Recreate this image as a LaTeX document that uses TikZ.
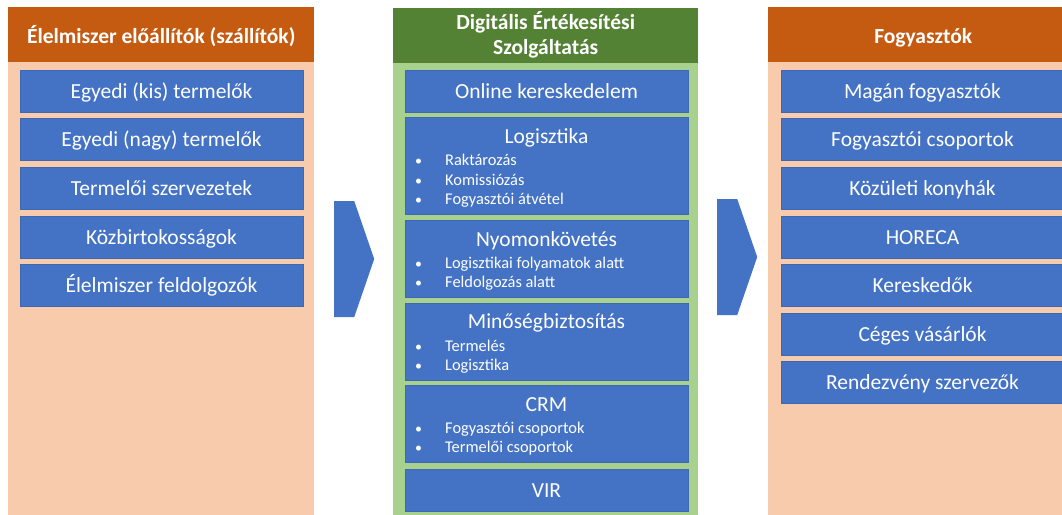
\documentclass[tikz,border=0pt]{standalone}
\usepackage{fontspec}
\setmainfont{Carlito}
\usetikzlibrary{positioning,calc,shapes.symbols}
\definecolor{HeadOrange}{HTML}{C55A11}
\definecolor{PanelPeach}{HTML}{F8CBAD}
\definecolor{HeadGreen}{HTML}{548235}
\definecolor{PanelGreen}{HTML}{A9D18E}
\definecolor{BoxBlue}{HTML}{4472C4}
\definecolor{BoxEdge}{HTML}{3E68B4}
\tikzset{
    % background columns
    panel/.style={
        rectangle,
        anchor=north west,
        inner sep=0pt,
        minimum height=530pt
    },
    panel head/.style={
        rectangle,
        anchor=north west,
        inner sep=0pt,
        minimum height=55pt,
        text=white,
        align=center,
        text height=17pt,
        text depth=0pt,
        font=\fontsize{21.5}{25}\selectfont\bfseries
    },
    % blue boxes
    box/.style={
        rectangle,
        fill=BoxBlue,
        draw=BoxEdge,
        line width=0.5pt,
        inner sep=0pt,
        outer sep=0pt,
        minimum width=283pt,
        minimum height=42pt,
        text=white,
        text height=14.5pt,
        text depth=0pt,
        font=\fontsize{21.5}{25}\selectfont
    },
    box title/.style={
        anchor=base,
        inner sep=0pt,
        text=white,
        font=\fontsize{21.5}{25}\selectfont
    },
    box bullet/.style={
        anchor=base west,
        inner sep=0pt,
        text=white,
        font=\fontsize{16.4}{19}\selectfont
    },
    chevron/.style={
        signal,
        signal to=east,
        signal pointer angle=142,
        fill=BoxBlue,
        draw=none,
        inner sep=0pt,
        anchor=west,
        minimum width=40pt,
        minimum height=116pt
    }
}
\newcommand{\bul}[1]{\makebox[30pt][l]{\fontsize{14}{16}\selectfont•}#1}

\begin{document}
\begin{tikzpicture}[x=1pt, y=-1pt, node distance=6.6pt]
    \useasboundingbox (0,0) rectangle (1062,514);
    \clip (0,0) rectangle (1062,514);

    % suppliers
    \node[panel, fill=PanelPeach, minimum width=306pt] (supplier) at (8,7) {};
    \node[panel head, fill=HeadOrange, minimum width=306pt] (supplierhead) at (8,7) {Élelmiszer előállítók (szállítók)};
    \node[box] (small) at (161.5,91) {Egyedi (kis) termelők};
    \node[box, below=of small] (large) {Egyedi (nagy) termelők};
    \node[box, below=of large] (orgs) {Termelői szervezetek};
    \node[box, below=of orgs] (commons) {Közbirtokosságok};
    \node[box, below=of commons] (processors) {Élelmiszer feldolgozók};

    % service
    \node[panel, fill=PanelGreen, minimum width=305pt] (service) at (393,8) {};
    \node[panel head, fill=HeadGreen, minimum width=305pt, text height=38pt] (servicehead) at (393,8) {Digitális Értékesítési\\Szolgáltatás};
    \node[box] (online) at (546.5,91) {Online kereskedelem};
    \node[box, minimum height=97pt, below=5.6pt of online] (logistics) {};
    \node[box, minimum height=77pt, below=5.6pt of logistics] (tracking) {};
    \node[box, minimum height=77pt, below=5.6pt of tracking] (quality) {};
    \node[box, minimum height=77pt, below=5.6pt of quality] (crm) {};
    \node[box, below=6.5pt of crm] (vir) {VIR};

    \node[box title] (logisticstitle) at ($(logistics.north)+(0,25.5)$) {Logisztika};
    \foreach \txt [count=\i] in {Raktározás, Komissiózás, Fogyasztói átvétel}
        \node[box bullet] (logistics\i) at ($(logistics.north west)+(10,29+19.2*\i)$) {\bul{\txt}};

    \node[box title] (trackingtitle) at ($(tracking.north)+(0,26)$) {Nyomonkövetés};
    \foreach \txt [count=\i] in {Logisztikai folyamatok alatt, Feldolgozás alatt}
        \node[box bullet] (tracking\i) at ($(tracking.north west)+(10,29+19.2*\i)$) {\bul{\txt}};

    \node[box title] (qualitytitle) at ($(quality.north)+(0,26)$) {Minőségbiztosítás};
    \foreach \txt [count=\i] in {Termelés, Logisztika}
        \node[box bullet] (quality\i) at ($(quality.north west)+(10,29+19.2*\i)$) {\bul{\txt}};

    \node[box title] (crmtitle) at ($(crm.north)+(0,26)$) {CRM};
    \foreach \txt [count=\i] in {Fogyasztói csoportok, Termelői csoportok}
        \node[box bullet] (crm\i) at ($(crm.north west)+(10,29+19.2*\i)$) {\bul{\txt}};

    % consumers
    \node[panel, fill=PanelPeach, minimum width=310pt] (consumer) at (768,7) {};
    \node[panel head, fill=HeadOrange, minimum width=310pt] (consumerhead) at (768,7) {Fogyasztók};
    \node[box] (private) at (922.5,91) {Magán fogyasztók};
    \node[box, below=of private] (groups) {Fogyasztói csoportok};
    \node[box, below=of groups] (kitchens) {Közületi konyhák};
    \node[box, below=of kitchens] (horeca) {HORECA};
    \node[box, below=of horeca] (traders) {Kereskedők};
    \node[box, below=of traders] (firms) {Céges vásárlók};
    \node[box, below=of firms] (events) {Rendezvény szervezők};

    % chevrons between the columns
    \node[chevron] (chevronA) at (334,259) {};
    \node[chevron] (chevronB) at (717,257) {};
\end{tikzpicture}
\end{document}
